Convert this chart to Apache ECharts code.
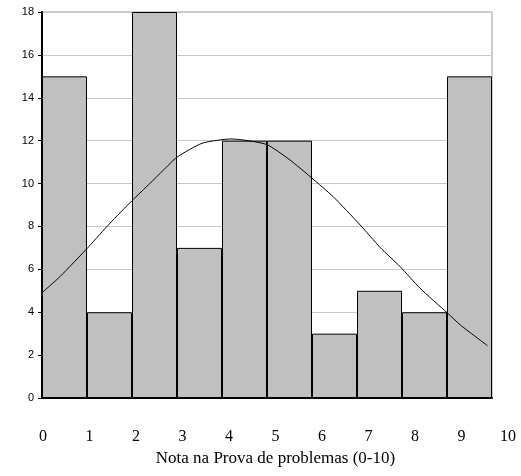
<!DOCTYPE html>
<html>
<head>
<meta charset="utf-8">
<script src="https://cdn.jsdelivr.net/npm/echarts@6/dist/echarts.min.js"></script>
<style>
    html, body { margin: 0; padding: 0; background: #fff; }
    #chart { width: 521px; height: 476px; }
</style>
</head>
<body>
<div id="chart"></div>
<script>
// histogram classes (one bar per grade interval)
var categories = ['0', '1', '2', '3', '4', '5', '6', '7', '8', '9'];
var counts = [15, 4, 18, 7, 12, 12, 3, 5, 4, 15];
// fitted normal curve: [grade, frequency]
var curveX = [0, 0.4, 1.04, 1.51, 2.0, 2.4, 2.7, 3.0, 3.56, 4.2, 4.98, 5.51, 6.0, 6.47, 7.07, 7.51, 7.96, 8.4, 9.0, 9.3, 9.9];
var curveY = [4.91, 5.66, 7.06, 8.15, 9.2, 10.01, 10.63, 11.23, 11.88, 12.08, 11.83, 11.1, 10.25, 9.39, 8.07, 7.03, 6.12, 5.12, 3.98, 3.4, 2.44];
var tickLabels = ['0', '1', '2', '3', '4', '5', '6', '7', '8', '9', '10'];

var curve = curveX.map(function (x, i) { return [x, curveY[i]]; });

var chart = echarts.init(document.getElementById('chart'));
chart.setOption({
    backgroundColor: '#fff',
    animation: false,
    grid: [
        {left: 42, right: 29, top: 12, bottom: 78, show: true, borderColor: '#9a9a9a', borderWidth: 1},
        {left: 43, right: 13, top: 12, bottom: 78}
    ],
    xAxis: [
        {
            type: 'category', gridIndex: 0, data: categories,
            axisLine: {lineStyle: {color: '#000', width: 2}},
            axisTick: {alignWithLabel: true, length: 4, lineStyle: {color: '#000'}},
            axisLabel: {show: false}
        },
        {
            type: 'value', gridIndex: 0, min: 0, max: 10, show: false
        },
        {
            type: 'value', gridIndex: 1, min: 0, max: 10, interval: 1,
            axisLine: {show: false}, axisTick: {show: false}, splitLine: {show: false},
            axisLabel: {
                margin: 31, color: '#000', fontSize: 16,
                fontFamily: 'Liberation Serif, Times New Roman, serif',
                formatter: function (v) { return tickLabels[v]; }
            },
            name: 'Nota na Prova de problemas (0-10)',
            nameLocation: 'middle', nameGap: 52,
            nameTextStyle: {color: '#000', fontSize: 17, fontFamily: 'Liberation Serif, Times New Roman, serif'}
        }
    ],
    yAxis: [
        {
            type: 'value', gridIndex: 0, min: 0, max: 18, interval: 2,
            axisLine: {show: true, lineStyle: {color: '#000', width: 2}},
            axisTick: {show: true, length: 4, lineStyle: {color: '#000'}},
            axisLabel: {color: '#000', fontSize: 11, margin: 8, fontFamily: 'Liberation Sans, Arial, sans-serif'},
            splitLine: {lineStyle: {color: '#c8c8c8', width: 1}}
        },
        {type: 'value', gridIndex: 1, min: 0, max: 18, show: false}
    ],
    series: [
        {
            type: 'bar', xAxisIndex: 0, yAxisIndex: 0,
            data: counts,
            barCategoryGap: '0%',
            itemStyle: {color: '#c0c0c0', borderColor: '#000', borderWidth: 1}
        },
        {
            type: 'line', xAxisIndex: 1, yAxisIndex: 0,
            data: curve,
            smooth: 0.2, showSymbol: false,
            lineStyle: {color: '#000', width: 1}
        }
    ]
});
</script>
</body>
</html>
